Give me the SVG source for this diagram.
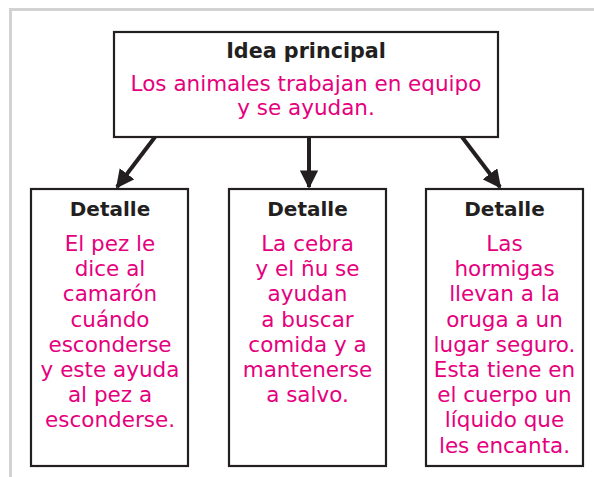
<svg xmlns="http://www.w3.org/2000/svg" width="594" height="477" viewBox="0 0 594 477">
<defs>
<style>
.box{fill:#fff;stroke:#231f20;stroke-width:2.2}
.frame{fill:none;stroke:#d2d2d2;stroke-width:3}
.head{font-family:"DejaVu Sans",sans-serif;font-weight:bold;font-size:20px;fill:#231f20;text-anchor:middle}
.big{font-size:20.7px}
.txt{font-family:"DejaVu Sans",sans-serif;font-size:21.5px;fill:#e5007e;text-anchor:middle}
.conn{stroke:#231f20;stroke-width:4;fill:none;marker-end:url(#ah)}
</style>
<marker id="ah" viewBox="0 0 10 10" refX="9" refY="5" markerWidth="4.6" markerHeight="4.6" markerUnits="strokeWidth" orient="auto">
<path d="M0,0 L10,5 L0,10 z" fill="#231f20"/>
</marker>
</defs>
<rect width="594" height="477" fill="#fff"/>
<path class="frame" d="M10.5,477 V9.5 H594"/>
<g id="connectors">
<line class="conn" x1="155" y1="137" x2="117" y2="187"/>
<line class="conn" x1="309" y1="137" x2="309" y2="187"/>
<line class="conn" x1="462" y1="137" x2="500" y2="187"/>
</g>
<g id="main">
<rect class="box" x="114" y="32" width="384" height="105"/>
<text class="head big" x="306" y="58">Idea principal</text>
<text class="txt" x="306" y="91">Los animales trabajan en equipo</text>
<text class="txt" x="306" y="115">y se ayudan.</text>
</g>
<g id="detalle1">
<rect class="box" x="31" y="189" width="157" height="277"/>
<text class="head" x="110" y="216">Detalle</text>
<text class="txt" x="110" y="251">El pez le</text>
<text class="txt" x="110" y="276.2">dice al</text>
<text class="txt" x="110" y="301.4">camarón</text>
<text class="txt" x="110" y="326.6">cuándo</text>
<text class="txt" x="110" y="351.8">esconderse</text>
<text class="txt" x="110" y="377">y este ayuda</text>
<text class="txt" x="110" y="402.2">al pez a</text>
<text class="txt" x="110" y="427.4">esconderse.</text>
</g>
<g id="detalle2">
<rect class="box" x="229" y="189" width="157" height="277"/>
<text class="head" x="307.5" y="216">Detalle</text>
<text class="txt" x="307.5" y="251">La cebra</text>
<text class="txt" x="307.5" y="276.2">y el ñu se</text>
<text class="txt" x="307.5" y="301.4">ayudan</text>
<text class="txt" x="307.5" y="326.6">a buscar</text>
<text class="txt" x="307.5" y="351.8">comida y a</text>
<text class="txt" x="307.5" y="377">mantenerse</text>
<text class="txt" x="307.5" y="402.2">a salvo.</text>
</g>
<g id="detalle3">
<rect class="box" x="426" y="189" width="157" height="277"/>
<text class="head" x="504.5" y="216">Detalle</text>
<text class="txt" x="504.5" y="251">Las</text>
<text class="txt" x="504.5" y="276.2">hormigas</text>
<text class="txt" x="504.5" y="301.4">llevan a la</text>
<text class="txt" x="504.5" y="326.6">oruga a un</text>
<text class="txt" x="504.5" y="351.8">lugar seguro.</text>
<text class="txt" x="504.5" y="377">Esta tiene en</text>
<text class="txt" x="504.5" y="402.2">el cuerpo un</text>
<text class="txt" x="504.5" y="427.4">líquido que</text>
<text class="txt" x="504.5" y="452.6">les encanta.</text>
</g>
</svg>
